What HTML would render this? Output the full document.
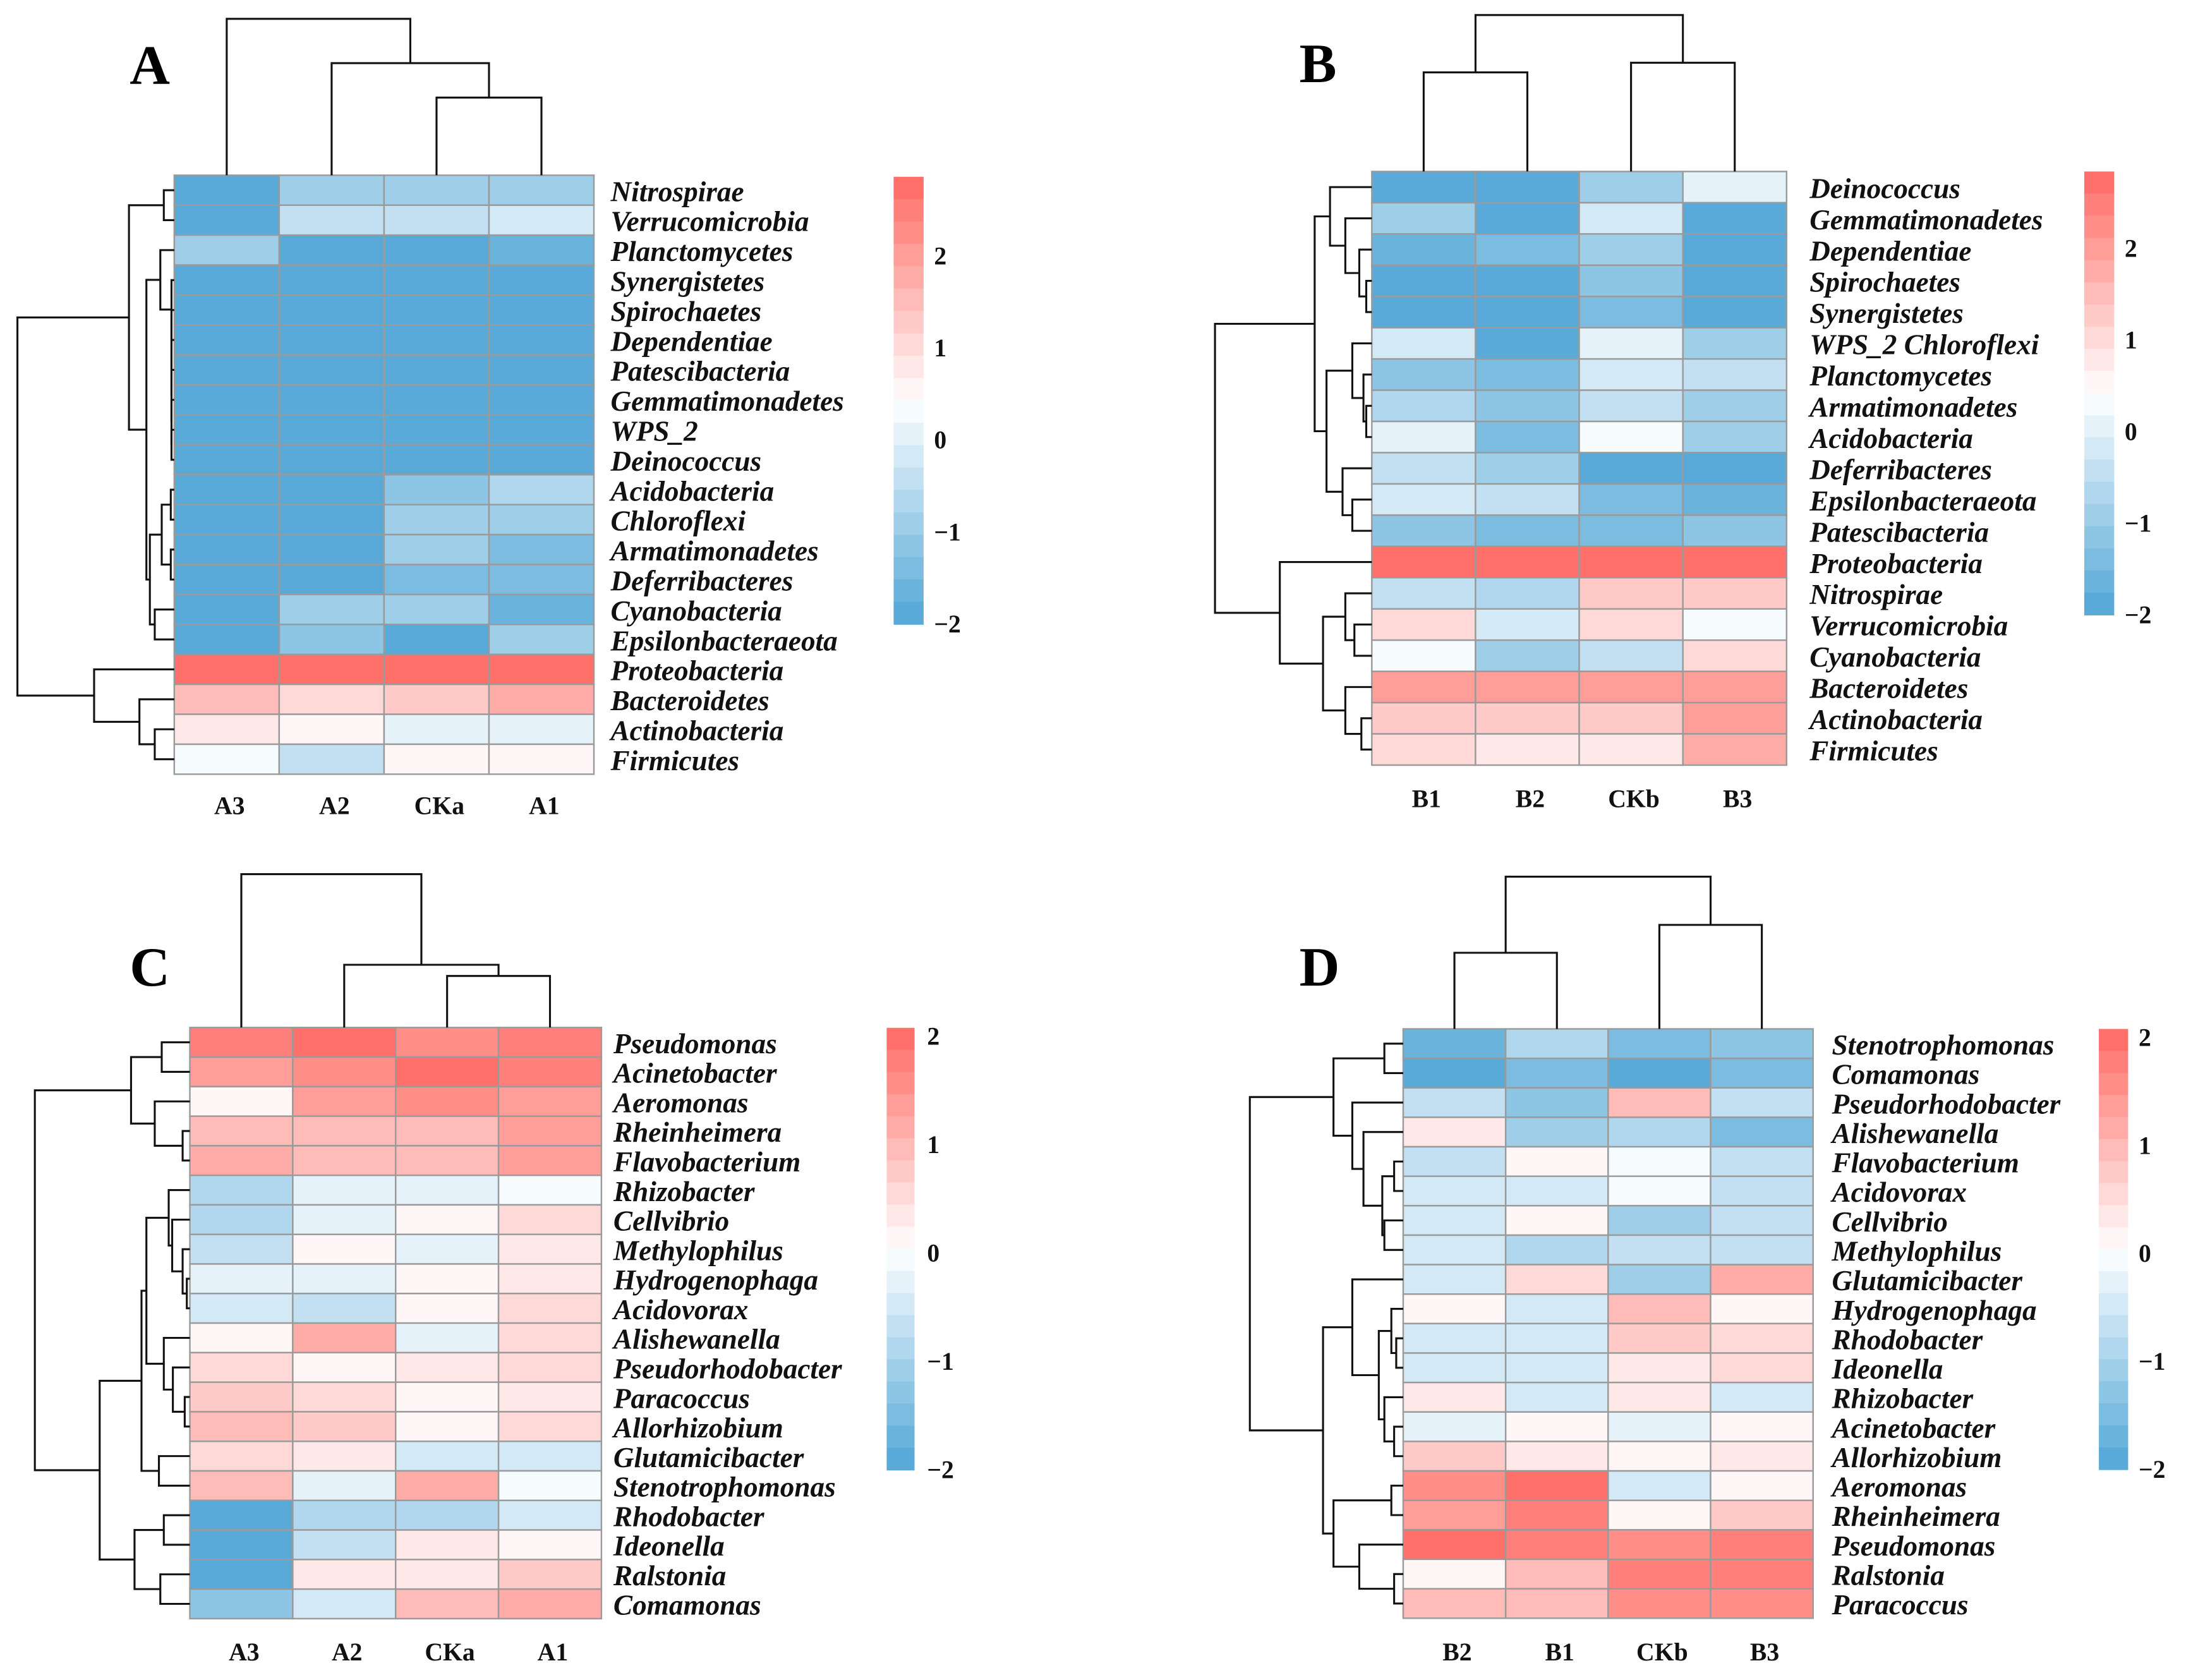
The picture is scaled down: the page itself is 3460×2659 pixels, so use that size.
<!DOCTYPE html>
<html><head><meta charset="utf-8"><style>
html,body{margin:0;padding:0;background:#fff;}
svg{display:block;}
.rl{font-family:"Liberation Serif",serif;font-weight:bold;font-style:italic;font-size:20.5px;fill:#111;}
.cl{font-family:"Liberation Serif",serif;font-weight:bold;font-size:18px;fill:#111;}
.tk{font-family:"Liberation Serif",serif;font-weight:bold;font-size:18px;fill:#111;}
.lt{font-family:"Liberation Serif",serif;font-weight:bold;font-size:40px;fill:#000;}
</style></head><body>
<svg id="fig" xmlns="http://www.w3.org/2000/svg" width="3460" height="2659" viewBox="0 0 1568 1205" preserveAspectRatio="none"></svg>
<script>
// ---------- DATA ----------
const rowsA = ["Nitrospirae","Verrucomicrobia","Planctomycetes","Synergistetes","Spirochaetes","Dependentiae","Patescibacteria","Gemmatimonadetes","WPS_2","Deinococcus","Acidobacteria","Chloroflexi","Armatimonadetes","Deferribacteres","Cyanobacteria","Epsilonbacteraeota","Proteobacteria","Bacteroidetes","Actinobacteria","Firmicutes"];
const colsA = ["A3","A2","CKa","A1"];
const valsA = [[-2,-1.0,-0.8,-0.8],[-2,-0.3,-0.5,-0.2],[-1.0,-2,-2,-1.6],[-2,-2,-2,-2],[-2,-2,-2,-2],[-2,-2,-2,-2],[-2,-2,-2,-2],[-2,-2,-2,-2],[-2,-2,-2,-2],[-2,-2,-2,-2],[-2,-2,-1.2,-0.7],[-2,-2,-1.0,-0.8],[-2,-2,-1.0,-1.3],[-2,-2,-1.4,-1.5],[-2,-1.0,-0.9,-1.6],[-2,-1.1,-2,-1.0],[2.8,2.8,2.8,2.8],[1.6,1.1,1.4,1.8],[0.8,0.55,0.1,0.1],[0.25,-0.3,0.6,0.6]];
const rowsB = ["Deinococcus","Gemmatimonadetes","Dependentiae","Spirochaetes","Synergistetes","WPS_2 Chloroflexi","Planctomycetes","Armatimonadetes","Acidobacteria","Deferribacteres","Epsilonbacteraeota","Patescibacteria","Proteobacteria","Nitrospirae","Verrucomicrobia","Cyanobacteria","Bacteroidetes","Actinobacteria","Firmicutes"];
const colsB = ["B1","B2","CKb","B3"];
const valsB = [[-1.9,-1.9,-0.9,0],[-1.0,-2,-0.3,-2],[-1.6,-1.3,-1.0,-2],[-2,-2,-1.1,-2],[-2,-2,-1.3,-2],[-0.3,-2,0,-1.0],[-1.1,-1.3,-0.1,-0.5],[-0.6,-1.2,-0.5,-0.9],[0,-1.3,0.3,-0.8],[-0.4,-1.0,-2,-2],[-0.2,-0.4,-1.4,-1.6],[-1.1,-1.4,-1.3,-1.1],[2.8,2.8,2.8,2.8],[-0.5,-0.7,1.2,1.2],[1.0,-0.2,1.0,0.3],[0.2,-0.8,-0.5,1.0],[1.9,1.9,2.0,2.0],[1.2,1.2,1.2,1.9],[1.0,0.9,0.9,1.7]];
const rowsC = ["Pseudomonas","Acinetobacter","Aeromonas","Rheinheimera","Flavobacterium","Rhizobacter","Cellvibrio","Methylophilus","Hydrogenophaga","Acidovorax","Alishewanella","Pseudorhodobacter","Paracoccus","Allorhizobium","Glutamicibacter","Stenotrophomonas","Rhodobacter","Ideonella","Ralstonia","Comamonas"];
const colsC = ["A3","A2","CKa","A1"];
const valsC = [[1.8,1.9,1.6,1.7],[1.3,1.6,2.0,1.8],[0.1,1.4,1.5,1.4],[0.9,0.9,0.9,1.3],[1.1,0.9,0.9,1.4],[-0.8,-0.2,-0.2,-0.1],[-0.8,-0.2,0.1,0.6],[-0.6,0.1,-0.3,0.4],[-0.2,-0.3,0.1,0.4],[-0.4,-0.6,0.1,0.5],[0.1,1.2,-0.2,0.6],[0.6,0.1,0.4,0.6],[0.8,0.6,0.1,0.4],[1.0,0.7,0.1,0.6],[0.6,0.4,-0.5,-0.5],[0.9,-0.2,1.2,-0.1],[-2,-0.8,-0.9,-0.4],[-2,-0.7,0.4,0.1],[-2,0.3,0.4,0.7],[-1.2,-0.4,0.9,1.1]];
const rowsD = ["Stenotrophomonas","Comamonas","Pseudorhodobacter","Alishewanella","Flavobacterium","Acidovorax","Cellvibrio","Methylophilus","Glutamicibacter","Hydrogenophaga","Rhodobacter","Ideonella","Rhizobacter","Acinetobacter","Allorhizobium","Aeromonas","Rheinheimera","Pseudomonas","Ralstonia","Paracoccus"];
const colsD = ["B2","B1","CKb","B3"];
const valsD = [[-1.6,-0.8,-1.4,-1.2],[-1.9,-1.4,-2,-1.4],[-0.7,-1.2,1.0,-0.6],[0.4,-1.1,-0.8,-1.5],[-0.6,0.1,-0.1,-0.6],[-0.4,-0.4,-0.1,-0.7],[-0.4,0.1,-1.0,-0.7],[-0.4,-0.8,-0.7,-0.7],[-0.4,0.6,-1.1,1.1],[0.1,-0.4,0.9,0.1],[-0.4,-0.4,0.8,0.6],[-0.4,-0.4,0.4,0.5],[0.4,-0.4,0.4,-0.5],[-0.2,0.1,-0.2,0.1],[0.7,0.4,0.1,0.4],[1.6,1.9,-0.4,0.1],[1.4,1.7,0.1,0.7],[1.9,1.7,1.5,1.7],[0.1,1.0,1.7,1.7],[0.9,0.9,1.6,1.6]];
const ticksAB = [2,1,0,-1,-2];
const ticksCD = [2,1,0,-1,-2];
// dendrogram trees [height, left, right]; leaves are row/col indices
const colTreeA = [13.5,0,[45.3,1,[70,2,3]]];
const colTreeB = [10.8,[51.9,0,1],[45,2,3]];
const colTreeC = [627,0,[692,1,[700,2,3]]];
const colTreeD = [628.8,[683.4,0,1],[663.4,2,3]];
const rowTreeA = [12.5,[92.5,[117.5,0,1],[105,[115,2,[123,3,[123,4,[123,5,[123,6,[123,7,[123,8,9]]]]]]],[107.5,[116,[122.5,10,11],[122.5,12,13]],[111,14,15]]]],[67.5,16,[100,17,[111,18,19]]]];
const rowTreeB = [871.5,[943,[954,0,[965,1,[975,2,[980,3,4]]]],[951.5,[970,5,[978,6,[980,7,8]]],[963,9,[970,10,11]]]],[918,12,[949,[965,13,[971.5,14,15]],[965,16,[976.5,17,18]]]]];
const rowTreeC = [25,[94,[116,0,1],[111,2,[131,3,4]]],[71.5,[101.5,[105,[121,5,[123.5,6,[131,7,[134,8,9]]]],[117.5,10,[124,11,[132.5,12,13]]]],[114,14,15]],[96.5,[117.5,16,17],[115,18,19]]]];
const rowTreeD = [896.5,[956.5,[993,0,1],[970,2,[978,3,[991.5,[1000,4,5],[993,6,7]]]]],[949,[970,8,[989,[998,9,[1001.5,10,11]],[993,12,[1000,13,14]]]],[956.5,[998,15,16],[975,17,[1000,18,19]]]]];

// ---------- DRAW ----------
const NS="http://www.w3.org/2000/svg";
const svg=document.getElementById('fig');
function mk(tag,attrs,parent){const e=document.createElementNS(NS,tag);for(const k in attrs)e.setAttribute(k,attrs[k]);(parent||svg).appendChild(e);return e;}
const LOW=[80,166,214],HIGH=[255,104,98],WH=[255,255,255];
function color(v,vmin,vmax){
  let t=(v-vmin)/(vmax-vmin);t=Math.max(0,Math.min(0.9999,t));
  const k=Math.floor(t*20);const tc=(k+0.5)/20;let c;
  if(tc<0.5){const u=tc/0.5;c=LOW.map((a,i)=>a+(WH[i]-a)*u);}else{const u=(tc-0.5)/0.5;c=WH.map((a,i)=>a+(HIGH[i]-a)*u);}
  return `rgb(${c.map(Math.round).join(',')})`;
}
function panel(p){
  const g=mk('g',{});
  
  
  const nr=p.rows.length,nc=p.cols.length;
  const cw=(p.x1-p.x0)/nc,rh=(p.y1-p.y0)/nr;
  const xs=j=>p.x0+cw*(j+0.5), ys=i=>p.y0+rh*(i+0.5);
  for(let i=0;i<nr;i++)for(let j=0;j<nc;j++){
    const r=mk('rect',{x:p.x0+cw*j,y:p.y0+rh*i,width:cw,height:rh,fill:color(p.vals[i][j],p.vmin,p.vmax),stroke:'#9a9a9a','stroke-width':1.1},g);
    
    
  }
  p.rows.forEach((n,i)=>{const t=mk('text',{x:p.lx,y:ys(i)+7.8,class:'rl'},g);t.textContent=n;
    
    });
  p.cols.forEach((n,j)=>{const t=mk('text',{x:xs(j)+2,y:p.cy,class:'cl','text-anchor':'middle'},g);t.textContent=n;
    
    });
  const lg=mk('g',{},g);
  
  
  const steps=20,sh=(p.ly1-p.ly0)/steps;
  for(let k=0;k<steps;k++){const v=p.vmax-(k+0.5)*(p.vmax-p.vmin)/steps;
    mk('rect',{x:p.lx0,y:p.ly0+k*sh,width:p.lx1-p.lx0,height:sh+0.4,fill:color(v,p.vmin,p.vmax)},lg);}
  const lscale=v=>p.ly1-(v-p.vmin)/(p.vmax-p.vmin)*(p.ly1-p.ly0);
  p.ticks.forEach(v=>{const t=mk('text',{x:p.tx,y:lscale(v)+6,class:'tk'},lg);t.textContent=v<0?'\u2212'+Math.abs(v):String(v);
    
    });
  const L=mk('text',{x:p.ltx,y:p.lty,class:'lt'},g);L.textContent=p.id;
  
  
  const dg=mk('g',{stroke:'#111','stroke-width':1.4,fill:'none'},g);
  
  
  function rowNode(t){
    if(typeof t==='number')return{pos:ys(t),h:p.x0};
    const a=rowNode(t[1]),b=rowNode(t[2]),h=t[0];
    mk('polyline',{points:`${a.h},${a.pos} ${h},${a.pos} ${h},${b.pos} ${b.h},${b.pos}`},dg);
    return{pos:(a.pos+b.pos)/2,h:h};
  }
  function colNode(t){
    if(typeof t==='number')return{pos:xs(t),h:p.y0};
    const a=colNode(t[1]),b=colNode(t[2]),h=t[0];
    mk('polyline',{points:`${a.pos},${a.h} ${a.pos},${h} ${b.pos},${h} ${b.pos},${b.h}`},dg);
    return{pos:(a.pos+b.pos)/2,h:h};
  }
  rowNode(p.rowTree);colNode(p.colTree);
}
panel({id:'A',rows:rowsA,cols:colsA,vals:valsA,x0:125,x1:426,y0:125.7,y1:555.3,vmin:-2,vmax:2.86,lx0:641,lx1:662.5,ly0:126.8,ly1:447.7,ticks:ticksAB,tx:670,lx:438,cy:584,ltx:93,lty:60,rowTree:rowTreeA,colTree:colTreeA});
panel({id:'B',rows:rowsB,cols:colsB,vals:valsB,x0:984,x1:1281.5,y0:123,y1:548.8,vmin:-2,vmax:2.84,lx0:1495,lx1:1516.5,ly0:123,ly1:441,ticks:ticksAB,tx:1524,lx:1298,cy:579,ltx:932,lty:59,rowTree:rowTreeB,colTree:colTreeB});
panel({id:'C',rows:rowsC,cols:colsC,vals:valsC,x0:136.2,x1:431.4,y0:737,y1:1161,vmin:-2,vmax:2.08,lx0:636,lx1:656,ly0:737.2,ly1:1054.3,ticks:ticksCD,tx:665,lx:440,cy:1191,ltx:93,lty:707,rowTree:rowTreeC,colTree:colTreeC});
panel({id:'D',rows:rowsD,cols:colsD,vals:valsD,x0:1006.5,x1:1300.5,y0:738,y1:1160.7,vmin:-2,vmax:2.08,lx0:1505.5,lx1:1526.5,ly0:738,ly1:1054,ticks:ticksCD,tx:1534,lx:1314,cy:1191,ltx:932,lty:707,rowTree:rowTreeD,colTree:colTreeD});
</script>
</body></html>
